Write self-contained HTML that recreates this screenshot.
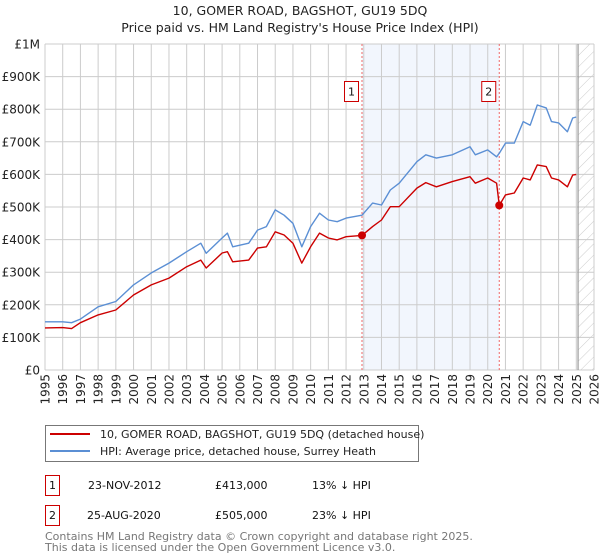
<!DOCTYPE html>
<html><head><meta charset="utf-8">
<style>
body{margin:0;background:#fff;font-family:"DejaVu Sans","Liberation Sans",sans-serif;}
svg{display:block}
</style></head>
<body>
<svg id="chart" width="600" height="560" xmlns="http://www.w3.org/2000/svg" font-family="DejaVu Sans, Liberation Sans, sans-serif">
<defs>
<pattern id="hatch" patternUnits="userSpaceOnUse" width="8" height="8" patternTransform="rotate(45)">
<line x1="0" y1="0" x2="0" y2="8" stroke="#ccc" stroke-width="1"/>
</pattern>
</defs>
<text x="300" y="15" text-anchor="middle" font-size="12.5" fill="#222">10, GOMER ROAD, BAGSHOT, GU19 5DQ</text>
<text x="300" y="32" text-anchor="middle" font-size="12.5" fill="#222">Price paid vs. HM Land Registry's House Price Index (HPI)</text>
<g id="plot"></g>
<g>
<rect x="45.5" y="425.5" width="373" height="36" fill="#fff" stroke="#777"/>
<line x1="50" y1="434" x2="90" y2="434" stroke="#cc0000" stroke-width="2"/>
<text x="100" y="438" font-size="11" fill="#222">10, GOMER ROAD, BAGSHOT, GU19 5DQ (detached house)</text>
<line x1="50" y1="451" x2="90" y2="451" stroke="#5b8fd4" stroke-width="2"/>
<text x="100" y="455" font-size="11" fill="#222">HPI: Average price, detached house, Surrey Heath</text>
</g>
<g font-size="11" fill="#111">
<rect x="45.5" y="475.5" width="14" height="20" fill="none" stroke="#cc0000"/>
<text x="52.5" y="489" text-anchor="middle">1</text>
<text x="88" y="489">23-NOV-2012</text>
<text x="215" y="489">£413,000</text>
<text x="312" y="489">13% ↓ HPI</text>
</g>
<g font-size="11" fill="#111">
<rect x="45.5" y="505.5" width="14" height="20" fill="none" stroke="#cc0000"/>
<text x="52.5" y="519" text-anchor="middle">2</text>
<text x="87" y="519">25-AUG-2020</text>
<text x="215" y="519">£505,000</text>
<text x="312" y="519">23% ↓ HPI</text>
</g>
<text x="45" y="540" font-size="11" fill="#777">Contains HM Land Registry data © Crown copyright and database right 2025.</text>
<text x="45" y="551" font-size="11" fill="#777">This data is licensed under the Open Government Licence v3.0.</text>
</svg>
<script>
const years=[1995,1996,1996.5,1997,1998,1999,2000,2001,2002,2003,2003.8,2004.1,2005,2005.3,2005.6,2006.5,2007,2007.5,2008,2008.5,2009,2009.5,2010,2010.5,2011,2011.5,2012,2012.9,2013.5,2014,2014.5,2015,2016,2016.5,2017.1,2018,2019,2019.3,2020,2020.5,2020.65,2021,2021.5,2022,2022.4,2022.8,2023.3,2023.6,2024,2024.5,2024.8,2025];
const hpi=[148,148,145,156,194,210,261,298,328,363,389,358,405,420,378,389,429,440,491,475,450,378,440,481,460,455,466,475,512,506,552,573,639,660,650,660,685,660,675,654,665,696,696,762,751,813,804,762,758,731,773,776];
const paid=[129,130,127,145,169,184,230,261,282,317,337,313,359,363,332,337,374,378,424,414,389,328,378,420,405,399,409,413,440,460,501,501,558,575,562,578,593,573,589,573,505,537,543,589,583,629,624,589,583,562,598,600];
const saleYears=[2012.9,2020.65];
const saleValues=[413,505];
const yTicks=[0,100,200,300,400,500,600,700,800,900,1000];
const yTickLabels=["£0","£100K","£200K","£300K","£400K","£500K","£600K","£700K","£800K","£900K","£1M"];
const xTicks=[1995,1996,1997,1998,1999,2000,2001,2002,2003,2004,2005,2006,2007,2008,2009,2010,2011,2012,2013,2014,2015,2016,2017,2018,2019,2020,2021,2022,2023,2024,2025,2026];
const X0=45,X1=594,Y0=370,Y1=44;
const xs=y=>X0+(y-1995)/(2026-1995)*(X1-X0);
const ys=v=>Y0-v/1000*(Y0-Y1);
const NS="http://www.w3.org/2000/svg";
const g=document.getElementById('plot');
function mk(t,a){const e=document.createElementNS(NS,t);for(const k in a)e.setAttribute(k,a[k]);g.appendChild(e);return e;}
let band=mk('rect',{x:xs(saleYears[0]),y:Y1,width:xs(saleYears[1])-xs(saleYears[0]),height:Y0-Y1,fill:'#f2f6fd'});


let hx=xs(2025.1);
let hat=mk('rect',{x:hx,y:Y1,width:X1-hx,height:Y0-Y1,fill:'url(#hatch)'});


yTicks.forEach((v,i)=>{
  let l=mk('line',{x1:X0,x2:X1,y1:ys(v),y2:ys(v),stroke:'#ccc','stroke-width':1});
  
  
  let t=mk('text',{x:X0-5,y:ys(v)+4.5,'text-anchor':'end','font-size':12,fill:'#222'});
  t.textContent=yTickLabels[i];
  
  
});
xTicks.forEach(yr=>{
  let l=mk('line',{x1:xs(yr),x2:xs(yr),y1:Y1,y2:Y0,stroke:'#ccc','stroke-width':1});
  
  
  let t=mk('text',{x:0,y:0,'text-anchor':'end','font-size':12,fill:'#222',transform:`translate(${xs(yr)+4.5},374) rotate(-90)`});
  t.textContent=yr;
  
  
});
let vl=mk('line',{x1:hx,x2:hx,y1:Y1,y2:Y0,stroke:'#999','stroke-width':1.2});


saleYears.forEach((sy,i)=>{
  let l=mk('line',{x1:xs(sy),x2:xs(sy),y1:Y1,y2:Y0,stroke:'#e66','stroke-width':1,'stroke-dasharray':'2,2'});
  
  
  let r=mk('rect',{x:xs(sy)-17.5,y:81.5,width:14,height:20,fill:'#fff',stroke:'#cc0000'});
  
  
  let t=mk('text',{x:xs(sy)-10.5,y:95.5,'text-anchor':'middle','font-size':11,fill:'#111'});
  t.textContent=String(i+1);
  
  
});
function line(arr,col,name){
  const d=arr.map((v,i)=>(i?'L':'M')+xs(years[i]).toFixed(1)+','+ys(v).toFixed(1)).join('');
  let p=mk('path',{d:d,fill:'none',stroke:col,'stroke-width':1.4,'stroke-linejoin':'round'});
  
  
}
line(hpi,'#5b8fd4','hpi-line');
line(paid,'#cc0000','price-paid-line');
saleYears.forEach((sy,i)=>{
  let c=mk('circle',{cx:xs(sy),cy:ys(saleValues[i]),r:4,fill:'#cc0000'});
  
  
});
</script>
</body></html>
